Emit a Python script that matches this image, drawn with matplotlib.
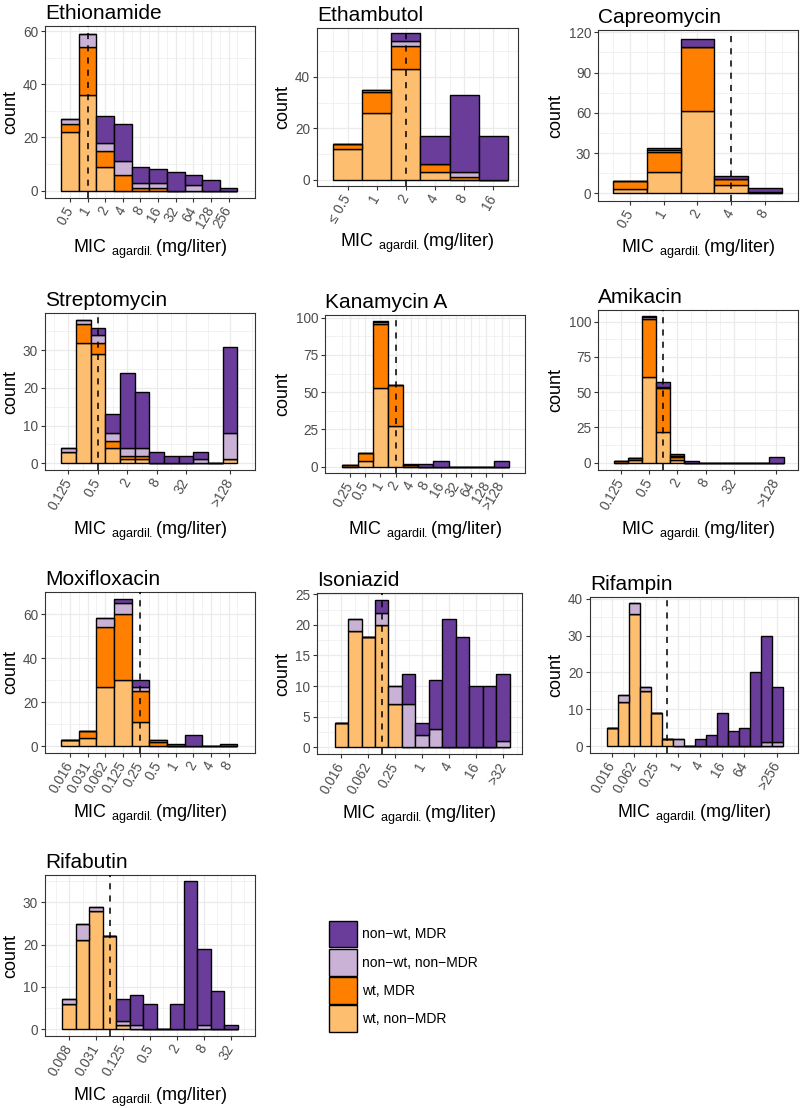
import matplotlib.pyplot as plt
import numpy as np
from matplotlib.patches import Patch
from matplotlib.ticker import MultipleLocator, FixedLocator

plt.rcParams['font.family'] = ['Liberation Sans', 'DejaVu Sans']
plt.rcParams['mathtext.fontset'] = 'custom'
plt.rcParams['mathtext.rm'] = 'Liberation Sans'
plt.rcParams['mathtext.it'] = 'Liberation Sans:italic'

COLORS = ['#FDBF6F', '#FF7F00', '#CAB2D6', '#6A3D9A']
GROUPS = ['wt, non\u2212MDR', 'wt, MDR', 'non\u2212wt, non\u2212MDR', 'non\u2212wt, MDR']

# ---- data (counts per MIC bin, stacked bottom -> top) ----
eto_bins = ['0.5', '1', '2', '4', '8', '16', '32', '64', '128', '256']
eto_wt = [22, 36, 9, 0, 0, 0, 0, 0, 0, 0]
eto_wt_mdr = [3, 18, 6, 6, 1, 1, 0, 0, 0, 0]
eto_nonwt = [2, 5, 3, 5, 2, 2, 0, 2, 0, 0]
eto_nonwt_mdr = [0, 0, 10, 14, 6, 5, 7, 4, 4, 1]
eto_ticks = eto_bins
eto_cutoff = '1'

emb_bins = ['\u2264 0.5', '1', '2', '4', '8', '16']
emb_wt = [12, 26, 43, 3, 0, 0]
emb_wt_mdr = [2, 8, 9, 3, 1, 0]
emb_nonwt = [0, 1, 2, 0, 2, 0]
emb_nonwt_mdr = [0, 0, 3, 11, 30, 17]
emb_ticks = emb_bins
emb_cutoff = '2'

cap_bins = ['0.5', '1', '2', '4', '8']
cap_wt = [3, 16, 61, 6, 0]
cap_wt_mdr = [6, 15, 48, 5, 1]
cap_nonwt = [0, 1, 0, 0, 0]
cap_nonwt_mdr = [0, 2, 6, 2, 3]
cap_ticks = cap_bins
cap_cutoff = '4'

sm_bins = ['0.125', '0.25', '0.5', '1', '2', '4', '8', '16', '32', '64', '128', '>128']
sm_wt = [3, 32, 29, 4, 1, 1, 0, 0, 0, 0, 0, 1]
sm_wt_mdr = [0, 5, 3, 2, 1, 1, 0, 0, 0, 0, 0, 0]
sm_nonwt = [1, 1, 2, 2, 2, 2, 0, 0, 0, 1, 0, 7]
sm_nonwt_mdr = [0, 0, 2, 5, 20, 15, 3, 2, 2, 2, 0, 23]
sm_ticks = ['0.125', '0.5', '2', '8', '32', '>128']
sm_cutoff = '0.5'

km_bins = ['0.25', '0.5', '1', '2', '4', '8', '16', '32', '64', '128', '>128']
km_wt = [0, 4, 53, 27, 0, 0, 0, 0, 0, 0, 0]
km_wt_mdr = [1, 5, 43, 28, 1, 0, 0, 0, 0, 0, 0]
km_nonwt = [0, 0, 1, 0, 0, 0, 0, 0, 0, 0, 0]
km_nonwt_mdr = [0, 0, 1, 0, 1, 2, 4, 0, 0, 0, 4]
km_ticks = km_bins
km_cutoff = '2'

ak_bins = ['0.125', '0.25', '0.5', '1', '2', '4', '8', '16', '32', '64', '128', '>128']
ak_wt = [0, 2, 61, 22, 2, 0, 0, 0, 0, 0, 0, 0]
ak_wt_mdr = [1, 1, 41, 31, 2, 0, 0, 0, 0, 0, 0, 0]
ak_nonwt = [0, 0, 1, 1, 1, 0, 0, 0, 0, 0, 0, 0]
ak_nonwt_mdr = [0, 0, 1, 3, 1, 1, 0, 0, 0, 0, 0, 4]
ak_ticks = ['0.125', '0.5', '2', '8', '32', '>128']
ak_cutoff = '1'

mfx_bins = ['0.016', '0.031', '0.062', '0.125', '0.25', '0.5', '1', '2', '4', '8']
mfx_wt = [3, 4, 27, 30, 11, 0, 0, 0, 0, 0]
mfx_wt_mdr = [0, 3, 27, 30, 14, 2, 0, 0, 0, 0]
mfx_nonwt = [0, 0, 4, 5, 2, 1, 0, 0, 0, 0]
mfx_nonwt_mdr = [0, 0, 0, 2, 3, 0, 1, 5, 0, 1]
mfx_ticks = mfx_bins
mfx_cutoff = '0.25'

inh_bins = ['0.016', '0.031', '0.062', '0.125', '0.25', '0.5', '1', '2', '4', '8',
            '16', '32', '>32']
inh_wt = [4, 19, 18, 20, 7, 0, 0, 0, 0, 0, 0, 0, 0]
inh_wt_mdr = [0, 0, 0, 0, 0, 0, 0, 0, 0, 0, 0, 0, 0]
inh_nonwt = [0, 2, 0, 2, 3, 7, 2, 3, 0, 0, 0, 0, 1]
inh_nonwt_mdr = [0, 0, 0, 2, 0, 5, 2, 8, 21, 18, 10, 10, 11]
inh_ticks = ['0.016', '0.062', '0.25', '1', '4', '16', '>32']
inh_cutoff = '0.125'

rif_bins = ['0.016', '0.031', '0.062', '0.125', '0.25', '0.5', '1', '2', '4', '8',
            '16', '32', '64', '128', '256', '>256']
rif_wt = [5, 12, 36, 15, 9, 2, 0, 0, 0, 0, 0, 0, 0, 0, 0, 0]
rif_wt_mdr = [0, 0, 0, 0, 0, 0, 0, 0, 0, 0, 0, 0, 0, 0, 0, 0]
rif_nonwt = [0, 2, 3, 1, 0, 0, 2, 0, 0, 0, 0, 0, 0, 0, 1, 1]
rif_nonwt_mdr = [0, 0, 0, 0, 0, 0, 0, 0, 2, 3, 9, 4, 5, 20, 29, 15]
rif_ticks = ['0.016', '0.062', '0.25', '1', '4', '16', '64', '>256']
rif_cutoff = '0.5'

rfb_bins = ['0.008', '0.016', '0.031', '0.062', '0.125', '0.25', '0.5', '1', '2', '4',
            '8', '16', '32']
rfb_wt = [6, 21, 28, 22, 1, 0, 0, 0, 0, 0, 0, 0, 0]
rfb_wt_mdr = [0, 0, 0, 0, 0, 0, 0, 0, 0, 0, 0, 0, 0]
rfb_nonwt = [1, 4, 1, 0, 1, 1, 0, 0, 0, 0, 1, 0, 0]
rfb_nonwt_mdr = [0, 0, 0, 0, 5, 7, 6, 0, 6, 35, 18, 9, 1]
rfb_ticks = ['0.008', '0.031', '0.125', '0.5', '2', '8', '32']
rfb_cutoff = '0.062'

PANELS = [
    ('Ethionamide', eto_bins, [eto_wt, eto_wt_mdr, eto_nonwt, eto_nonwt_mdr], eto_ticks, eto_cutoff),
    ('Ethambutol', emb_bins, [emb_wt, emb_wt_mdr, emb_nonwt, emb_nonwt_mdr], emb_ticks, emb_cutoff),
    ('Capreomycin', cap_bins, [cap_wt, cap_wt_mdr, cap_nonwt, cap_nonwt_mdr], cap_ticks, cap_cutoff),
    ('Streptomycin', sm_bins, [sm_wt, sm_wt_mdr, sm_nonwt, sm_nonwt_mdr], sm_ticks, sm_cutoff),
    ('Kanamycin A', km_bins, [km_wt, km_wt_mdr, km_nonwt, km_nonwt_mdr], km_ticks, km_cutoff),
    ('Amikacin', ak_bins, [ak_wt, ak_wt_mdr, ak_nonwt, ak_nonwt_mdr], ak_ticks, ak_cutoff),
    ('Moxifloxacin', mfx_bins, [mfx_wt, mfx_wt_mdr, mfx_nonwt, mfx_nonwt_mdr], mfx_ticks, mfx_cutoff),
    ('Isoniazid', inh_bins, [inh_wt, inh_wt_mdr, inh_nonwt, inh_nonwt_mdr], inh_ticks, inh_cutoff),
    ('Rifampin', rif_bins, [rif_wt, rif_wt_mdr, rif_nonwt, rif_nonwt_mdr], rif_ticks, rif_cutoff),
    ('Rifabutin', rfb_bins, [rfb_wt, rfb_wt_mdr, rfb_nonwt, rfb_nonwt_mdr], rfb_ticks, rfb_cutoff),
]

# ---- layout: panel box in pixels (left, top, right, bottom), xlim, ylim, y step ----
LAYOUT = [
    ((45, 26, 255, 198), (-1.42, 10.5), (-2.8, 61.9), 20),
    ((317, 28, 518, 186), (-1.05, 5.85), (-2.5, 59.0), 20),
    ((598, 30, 798, 201), (-0.95, 4.98), (-5.7, 121.7), 30),
    ((45, 313, 255, 470), (-1.6, 12.7), (-1.8, 39.9), 10),
    ((325, 315, 525, 473), (-1.65, 11.54), (-4.3, 101.8), 25),
    ((598, 310, 798, 470), (-1.6, 12.52), (-5.2, 108.3), 25),
    ((45, 592, 255, 753), (-1.42, 10.5), (-3.0, 70.0), 20),
    ((317, 593, 522, 754), (-1.8, 13.4), (-1.1, 25.2), 5),
    ((590, 597, 798, 753), (-2.0, 16.9), (-1.9, 40.5), 10),
    ((45, 875, 255, 1036), (-1.78, 13.78), (-1.65, 36.5), 10),
]

W, H = 800, 1108
fig = plt.figure(figsize=(W / 100, H / 100), dpi=100)

for (name, bins, layers, ticks, cutoff), (box, xlim, ylim, ystep) in zip(PANELS, LAYOUT):
    l, t, r, b = box
    ax = fig.add_axes([l / W, 1 - b / H, (r - l) / W, (b - t) / H])
    x = np.arange(len(bins))
    bottom = np.zeros(len(bins))
    for vals, col in zip(layers, COLORS):
        vals = np.array(vals, dtype=float)
        ax.bar(x, vals, width=1.0, bottom=bottom, color=col, edgecolor='black',
               linewidth=1.0, zorder=3)
        bottom += vals
    ax.axvline(bins.index(cutoff), color='black', linestyle=(0, (4, 4)), linewidth=1.1, zorder=4)

    ax.set_xlim(*xlim)
    ax.set_ylim(*ylim)
    tpos = [bins.index(tk) for tk in ticks]
    ax.set_xticks(tpos)
    ax.set_xticklabels(ticks, rotation=60, ha='right', va='center', rotation_mode='anchor')
    mids = [(a + c) / 2 for a, c in zip(tpos[:-1], tpos[1:])]
    mids = [tpos[0] - (tpos[1] - tpos[0]) / 2] + mids + [tpos[-1] + (tpos[-1] - tpos[-2]) / 2]
    ax.xaxis.set_minor_locator(FixedLocator(mids))
    ax.yaxis.set_major_locator(MultipleLocator(ystep))
    ax.yaxis.set_minor_locator(MultipleLocator(ystep / 2))

    ax.set_axisbelow(True)
    ax.grid(which='major', color='#EBEBEB', linewidth=0.9)
    ax.grid(which='minor', color='#EBEBEB', linewidth=0.45)
    for sp in ax.spines.values():
        sp.set_color('#333333')
        sp.set_linewidth(0.8)
    ax.tick_params(which='major', length=3, width=0.8, color='#333333',
                   labelcolor='#4D4D4D', labelsize=9.8, pad=2)
    ax.tick_params(axis='x', which='major', pad=4)
    ax.tick_params(which='minor', length=0)

    ax.set_title(name, loc='left', fontsize=15, pad=5)
    ax.set_ylabel('count', fontsize=13, labelpad=3)
    ax.set_xlabel(r'MIC $_{\mathrm{agardil.}}$(mg/liter)', fontsize=13, labelpad=5)

handles = [Patch(facecolor=c, edgecolor='black', linewidth=1.0, label=g)
           for c, g in zip(COLORS[::-1], GROUPS[::-1])]
fig.legend(handles=handles, loc='upper left', bbox_to_anchor=(329 / W, 1 - 921 / H),
           frameon=False, fontsize=10, handlelength=2.0, handleheight=2.55,
           labelspacing=0.12, handletextpad=0.4, borderpad=0, borderaxespad=0)

fig.savefig('out.png', dpi=100)
